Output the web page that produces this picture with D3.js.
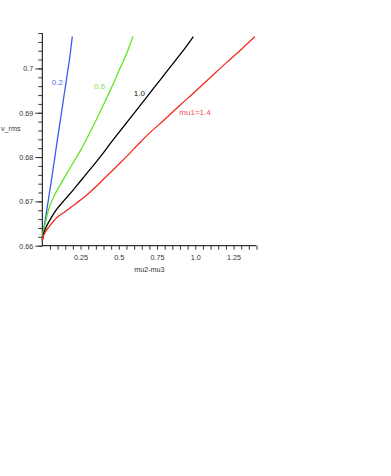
<!DOCTYPE html>
<meta charset="utf-8">
<style>
  body { margin: 0; background: #fff; }
  text { font-family: "Liberation Sans", Arial, sans-serif; }
</style>
<script src="https://d3js.org/d3.v7.min.js"></script>
<div id="chart"></div>
<script>

  // curve labels and colours, one per mu1 value
  var curveLabels = ["0.2", "0.6", "1.0", "mu1=1.4"]
  var curveColors = ["#3a5bef", "#5fe81f", "#000000", "#f42a1e"]
  var labelColors = ["#5570ee", "#7ede4e", "#111111", "#f25050"]

  // mu2-mu3 and v_rms
  var x02 = [0, 0.005, 0.01, 0.02, 0.04, 0.06, 0.08, 0.1, 0.12, 0.14, 0.16, 0.18, 0.196]
  var y02 = [0.6612, 0.6629, 0.6640, 0.6660, 0.6704, 0.6749, 0.6795, 0.6842, 0.6888, 0.6934, 0.6980, 0.7026, 0.7072]

  var x06 = [0, 0.005, 0.01, 0.02, 0.04, 0.06, 0.08, 0.1, 0.15, 0.2, 0.25, 0.3, 0.35, 0.4, 0.45, 0.5, 0.55, 0.593]
  var y06 = [0.6612, 0.6630, 0.6638, 0.6651, 0.6680, 0.6699, 0.6714, 0.6727, 0.6757, 0.6786, 0.6815, 0.6848, 0.6882, 0.6918, 0.6955, 0.6994, 0.7033, 0.7072]

  var x10 = [0, 0.01, 0.02, 0.04, 0.06, 0.08, 0.1, 0.15, 0.2, 0.25, 0.3, 0.35, 0.4, 0.45, 0.5, 0.55, 0.6, 0.65, 0.7, 0.75, 0.8, 0.85, 0.9, 0.95, 0.987]
  var y10 = [0.6612, 0.6628, 0.6638, 0.6652, 0.6664, 0.6675, 0.6685, 0.6705, 0.6725, 0.6746, 0.6767, 0.6788, 0.6810, 0.6833, 0.6855, 0.6877, 0.6899, 0.6921, 0.6943, 0.6965, 0.6987, 0.7009, 0.7031, 0.7054, 0.7072]

  var x14 = [0, 0.01, 0.02, 0.04, 0.06, 0.08, 0.1, 0.15, 0.2, 0.25, 0.3, 0.35, 0.4, 0.45, 0.5, 0.55, 0.6, 0.65, 0.7, 0.8, 0.9, 1.0, 1.1, 1.2, 1.3, 1.39]
  var y14 = [0.6612, 0.6624, 0.6631, 0.6641, 0.6650, 0.6658, 0.6665, 0.6677, 0.6690, 0.6703, 0.6717, 0.6733, 0.6750, 0.6767, 0.6784, 0.6801, 0.6819, 0.6837, 0.6854, 0.6885, 0.6917, 0.6948, 0.6980, 0.7012, 0.7043, 0.7072]

  var xTickLabels = ["0.25", "0.5", "0.75", "1.0", "1.25"]
  var yTickLabels = ["0.66", "0.67", "0.68", "0.69", "0.7"]

  var seriesX = [x02, x06, x10, x14]
  var seriesY = [y02, y06, y10, y14]

  var width = 391, height = 476
  var tickFont = 7.2

  var x = d3.scaleLinear().domain([0, 1.4]).range([42.3, 256.5])
  var y = d3.scaleLinear().domain([0.66, 0.708]).range([245.7, 33])

  var svg = d3.select("#chart").append("svg")
    .attr("width", width)
    .attr("height", height)

  // x axis: small ticks every 0.05, labels every 0.25
  var xMinor = d3.range(1, 29).map(function(i) { return +(i * 0.05).toFixed(2) })
  svg.append("g")
    .attr("transform", "translate(0," + y(0.66) + ")")
    .call(d3.axisBottom(x).tickValues(xMinor).tickSize(4).tickFormat(""))
    .call(function(g) {
      g.select(".domain").attr("stroke", "#000").attr("d", "M" + x(0) + ",0H" + x(1.4))
      g.selectAll(".tick line").attr("stroke", "#333")
    })

  svg.append("g")
    .attr("transform", "translate(0," + y(0.66) + ")")
    .call(d3.axisBottom(x).tickValues(xTickLabels.map(Number)).tickSize(0).tickPadding(9)
      .tickFormat(function(d, i) { return xTickLabels[i] }))
    .call(function(g) {
      g.select(".domain").remove()
      g.selectAll("text").attr("font-size", tickFont).attr("fill", "#333")
        .style("font-family", "'Liberation Sans', Arial, sans-serif")
    })

  // y axis: small ticks every 0.002, long ticks + labels every 0.01
  var yMinor = d3.range(0, 25).map(function(i) { return +(0.66 + i * 0.002).toFixed(3) })
  svg.append("g")
    .attr("transform", "translate(" + x(0) + ",0)")
    .call(d3.axisLeft(y).tickValues(yMinor).tickSize(4).tickFormat(""))
    .call(function(g) {
      g.select(".domain").attr("stroke", "#000").attr("d", "M0," + y(0.66) + "V" + y(0.708))
      g.selectAll(".tick line").attr("stroke", "#333")
    })

  svg.append("g")
    .attr("transform", "translate(" + x(0) + ",0)")
    .call(d3.axisLeft(y).tickValues(yTickLabels.map(Number)).tickSize(7).tickPadding(2)
      .tickFormat(function(d, i) { return yTickLabels[i] }))
    .call(function(g) {
      g.select(".domain").remove()
      g.selectAll(".tick line").attr("stroke", "#333")
      g.selectAll("text").attr("font-size", tickFont).attr("fill", "#333")
        .style("font-family", "'Liberation Sans', Arial, sans-serif")
    })

  // axis titles
  svg.append("text")
    .attr("x", x(0.7)).attr("y", 272)
    .attr("text-anchor", "middle")
    .attr("font-size", tickFont).attr("fill", "#333")
    .text("mu2-mu3")

  svg.append("text")
    .attr("x", 20.5).attr("y", 131)
    .attr("text-anchor", "end")
    .attr("font-size", tickFont).attr("fill", "#333")
    .text("v_rms")

  // curves
  var line = d3.line()
    .x(function(d) { return x(d[0]) })
    .y(function(d) { return y(d[1]) })
    .curve(d3.curveCatmullRom.alpha(0.5))

  seriesX.forEach(function(xs, k) {
    var pts = xs.map(function(v, i) { return [v, seriesY[k][i]] })
    svg.append("path")
      .datum(pts)
      .attr("d", line)
      .attr("fill", "none")
      .attr("stroke", curveColors[k])
      .attr("stroke-width", 1.3)
  })

  // curve labels, placed in data units beside each curve
  var labelX = [0.098, 0.375, 0.634, 0.998]
  var labelY = [0.6969, 0.6961, 0.6945, 0.6902]
  curveLabels.forEach(function(t, k) {
    svg.append("text")
      .attr("x", x(labelX[k])).attr("y", y(labelY[k]) + 3)
      .attr("text-anchor", "middle")
      .attr("font-size", 8)
      .attr("fill", labelColors[k])
      .text(t)
  })

</script>
